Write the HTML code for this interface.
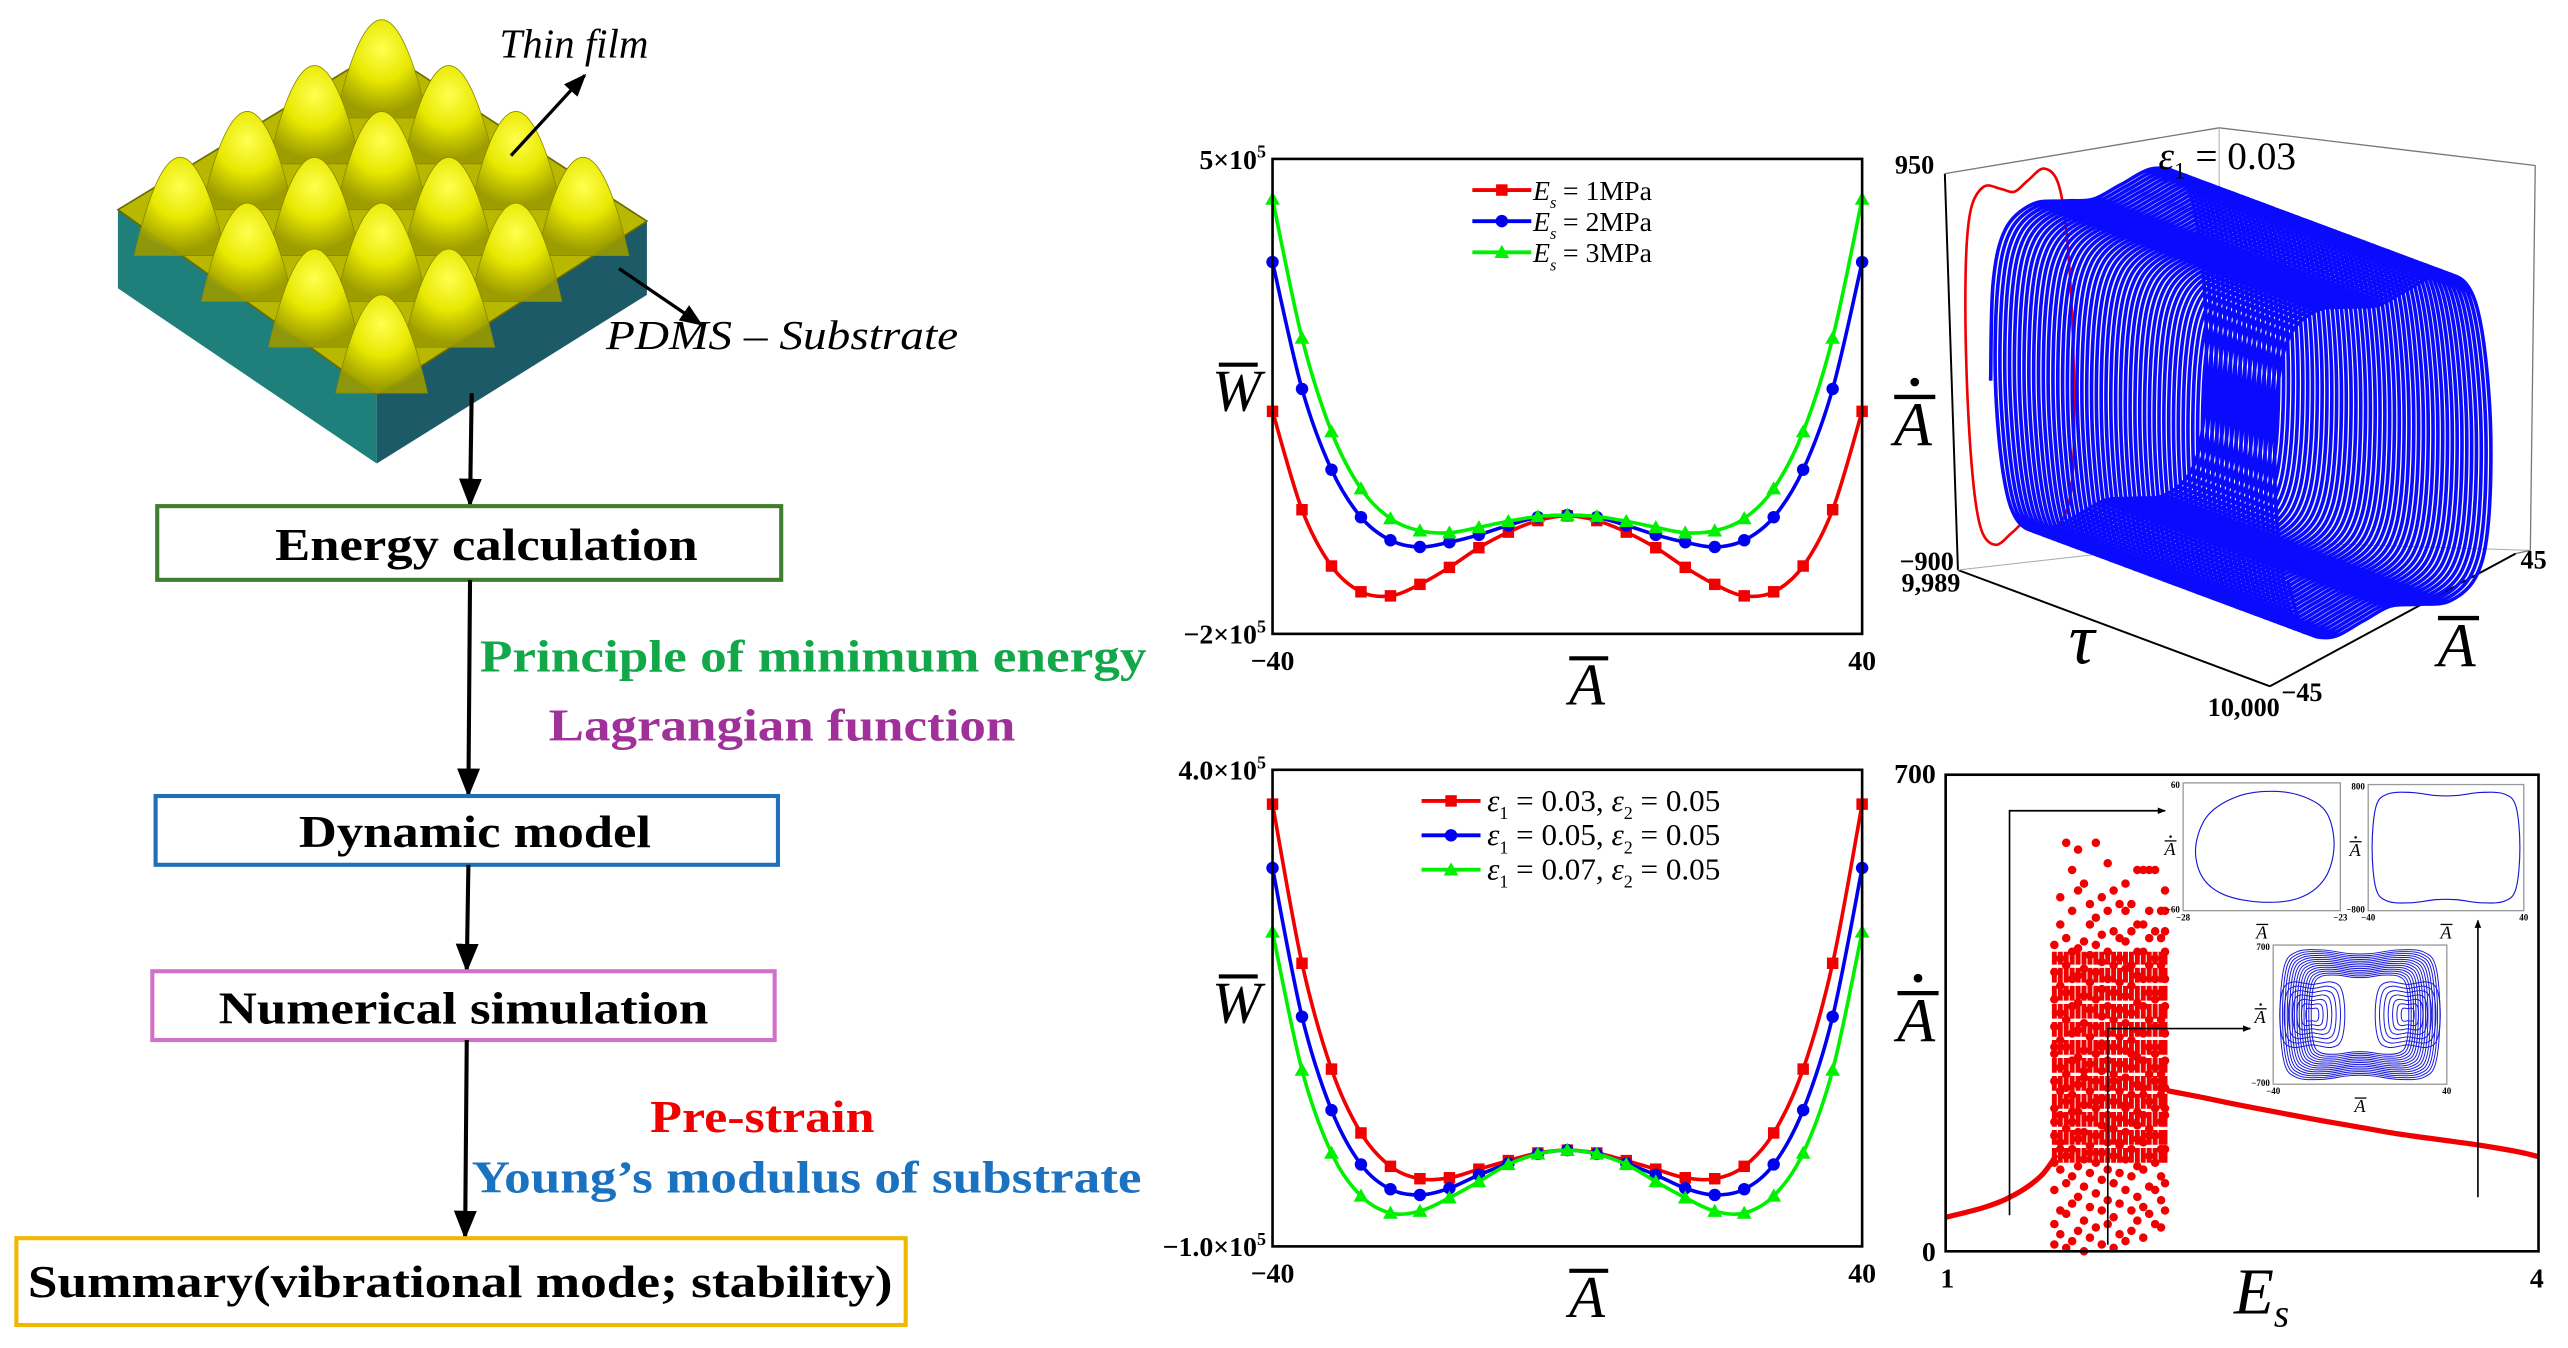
<!DOCTYPE html>
<html><head><meta charset="utf-8"><title>Thin film dynamics</title>
<style>
html,body{margin:0;padding:0;background:#fff;}
svg{display:block;}
text{font-family:"Liberation Serif",serif;}
</style></head>
<body>
<svg id="fig" width="2568" height="1348" viewBox="0 0 1568 823" xmlns="http://www.w3.org/2000/svg">
<defs>
<radialGradient id="bump" cx="50%" cy="30%" r="65%">
<stop offset="0" stop-color="#ffff50"/><stop offset="0.5" stop-color="#e8e800"/><stop offset="1" stop-color="#9a9a00" stop-opacity="0.9"/>
</radialGradient>
<marker id="ah" viewBox="0 0 10 10" refX="9" refY="5" markerWidth="7" markerHeight="7" orient="auto"><path d="M0,1 L10,5 L0,9 z" fill="#000"/></marker>
<marker id="ahs" viewBox="0 0 10 10" refX="9" refY="5" markerWidth="5" markerHeight="5" orient="auto"><path d="M0,1 L10,5 L0,9 z" fill="#000"/></marker>
</defs>

<g>
<polygon points="72,128 230,241 230,283 72,176" fill="#1f807b"/>
<polygon points="230,241 395,135 395,180 230,283" fill="#1b5a66"/>
<polygon points="72,128 233,30 395,135 230,241" fill="#b8b800" stroke="#6a6a00" stroke-width="1"/>
<g id="bumps"></g>
</g>
<text x="305" y="35" font-size="25" font-style="italic">Thin film</text>
<line x1="312" y1="95" x2="357" y2="46" stroke="#000" stroke-width="2" marker-end="url(#ah)"/>
<text x="370" y="213" font-size="25" font-style="italic" textLength="215" lengthAdjust="spacingAndGlyphs">PDMS – Substrate</text>
<line x1="378" y1="164" x2="428" y2="198" stroke="#000" stroke-width="2" marker-end="url(#ah)"/>

<g font-weight="bold">
<line x1="288" y1="240" x2="287" y2="308" stroke="#000" stroke-width="2.5" marker-end="url(#ah)"/>
<rect x="96" y="309" width="381" height="45" fill="#fff" stroke="#3e7e2e" stroke-width="2.5"/>
<text x="297" y="342" font-size="28" text-anchor="middle" textLength="258" lengthAdjust="spacingAndGlyphs">Energy calculation</text>
<line x1="287" y1="354" x2="286" y2="485" stroke="#000" stroke-width="2.5" marker-end="url(#ah)"/>
<text x="293" y="410" font-size="28" fill="#12a84a" textLength="407" lengthAdjust="spacingAndGlyphs">Principle of minimum energy</text>
<text x="335" y="452" font-size="28" fill="#a0309a" textLength="285" lengthAdjust="spacingAndGlyphs">Lagrangian function</text>
<rect x="95" y="486" width="380" height="42" fill="#fff" stroke="#1f6fba" stroke-width="2.5"/>
<text x="290" y="517" font-size="28" text-anchor="middle" textLength="215" lengthAdjust="spacingAndGlyphs">Dynamic model</text>
<line x1="286" y1="528" x2="285" y2="592" stroke="#000" stroke-width="2.5" marker-end="url(#ah)"/>
<rect x="93" y="593" width="380" height="42" fill="#fff" stroke="#d070c8" stroke-width="2.5"/>
<text x="283" y="625" font-size="28" text-anchor="middle" textLength="299" lengthAdjust="spacingAndGlyphs">Numerical simulation</text>
<line x1="285" y1="635" x2="284" y2="755" stroke="#000" stroke-width="2.5" marker-end="url(#ah)"/>
<text x="397" y="691" font-size="28" fill="#f20000" textLength="137" lengthAdjust="spacingAndGlyphs">Pre-strain</text>
<text x="288" y="728" font-size="28" fill="#1a72c0" textLength="409" lengthAdjust="spacingAndGlyphs">Young’s modulus of substrate</text>
<rect x="10" y="756" width="543" height="53" fill="#fff" stroke="#f2b800" stroke-width="2.5"/>
<text x="281" y="792" font-size="28" text-anchor="middle" textLength="528" lengthAdjust="spacingAndGlyphs">Summary(vibrational mode; stability)</text>
</g>

<g id="tl"></g>
<g id="bl"></g>
<g id="tr"></g>
<g id="br"></g>
</svg>

<script>
const xA = [-40,-36,-32,-28,-24,-20,-16,-12,-8,-4,0,4,8,12,16,20,24,28,32,36,40];
const wEs1 = [128000,-17000,-100000,-138000,-144000,-127000,-102000,-73000,-50000,-33000,-26000,-33000,-50000,-73000,-102000,-127000,-144000,-138000,-100000,-17000,128000];
const wEs2 = [348000,161000,42000,-28000,-62000,-72000,-65000,-54000,-40000,-28000,-25000,-28000,-40000,-54000,-65000,-72000,-62000,-28000,42000,161000,348000];
const wEs3 = [441000,236000,98000,14000,-30000,-48000,-51000,-43000,-34000,-27000,-25000,-27000,-34000,-43000,-51000,-48000,-30000,14000,98000,236000,441000];
const tlLegend = ["E_s = 1MPa","E_s = 2MPa","E_s = 3MPa"];
const wEp3 = [364000,197000,86000,19000,-16000,-29000,-28000,-19000,-10000,-2000,1000,-2000,-10000,-19000,-28000,-29000,-16000,19000,86000,197000,364000];
const wEp5 = [297000,141000,43000,-14000,-40000,-46000,-39000,-25000,-13000,-3000,1000,-3000,-13000,-25000,-39000,-46000,-40000,-14000,43000,141000,297000];
const wEp7 = [230000,85000,-2000,-47000,-65000,-63000,-49000,-32000,-14000,-3000,1000,-3000,-14000,-32000,-49000,-63000,-65000,-47000,-2000,85000,230000];
const blLegend = [["0.03","0.05"],["0.05","0.05"],["0.07","0.05"]];
const loopA  = [-39,-37,-32,-22,-10,0,10,22,32,37,39,37,32,22,10,0,-10,-22,-32,-37];
const loopAd = [0,450,680,760,730,700,730,760,680,450,0,-450,-680,-760,-730,-700,-730,-760,-680,-450];
const tauRange = [9989,10000];
const tauStart = 9989.8;
const nPeriods = 60;
const periodE = [1.0,1.1,1.2,1.3,1.4,1.48,1.53,1.56];
const periodV = [50,57,65,76,92,110,128,142];
const periodE2 = [2.12,2.3,2.5,2.7,2.9,3.1,3.3,3.5,3.7,3.9,4.0];
const periodV2 = [236,226,214,203,192,182,172,164,156,146,139];
const chaosE = [1.55,1.58,1.61,1.64,1.67,1.70,1.73,1.76,1.79,1.82,1.85,1.88,1.91,1.94,1.97,2.00,2.03,2.06,2.09,2.11];
const chaosV = [
 [10,40,90,130,170,210,250,290,330,370,410,450,300,190],
 [25,60,120,160,200,235,270,310,350,390,430,480,520,150],
 [5,55,100,140,180,220,260,300,340,380,420,460,600,240],
 [15,70,110,150,190,230,280,320,360,400,440,500,560,205],
 [30,80,125,165,205,245,285,325,365,405,445,530,590,175],
 [0,45,95,135,175,215,255,295,335,375,415,455,540,265],
 [20,65,115,155,195,235,275,315,355,395,435,480,510,145],
 [35,85,130,170,210,250,290,330,370,410,450,490,600,220],
 [10,60,105,145,185,225,265,305,345,385,425,465,520,300],
 [40,75,120,160,200,240,280,320,360,400,440,500,570,180],
 [5,50,100,140,180,220,260,300,340,380,420,470,530,250],
 [25,70,115,155,195,235,275,315,355,395,430,460,510,160],
 [15,90,135,175,215,255,295,335,375,415,455,500,540,210],
 [30,60,110,150,190,230,270,310,350,390,420,470,510,290],
 [45,80,125,165,205,245,285,325,365,405,440,480,560,185],
 [20,65,120,160,200,240,280,320,360,400,440,480,560,230],
 [55,95,140,180,220,260,300,340,380,420,460,500,560,170],
 [40,90,130,170,210,250,290,330,370,400,430,470,560,270],
 [35,75,110,150,190,230,260,300,340,380,420,460,500,240],
 [60,100,150,200,240,280,320,360,400,440,470,500,530,210]
];
const inset1A = [-27.6,-27.2,-26.2,-25,-24,-23.4,-23.2,-23.5,-24.3,-25.5,-26.7,-27.4];
const inset1Ad = [0,30,48,52,45,30,0,-30,-48,-52,-45,-28];
const inset2A = [-38,-36,-30,-18,-5,5,18,30,36,38,36,30,18,5,-5,-18,-30,-36];
const inset2Ad = [0,520,680,700,660,660,700,680,520,0,-520,-680,-700,-660,-660,-700,-680,-520];
const inset3Scale = [1.0,0.97,0.94,0.91,0.88,0.85,0.82,0.79,0.76,0.73,0.70,0.67,0.64,0.61];
const inset3Inner = [3,5,7,9,11,13,15];

const NS = "http://www.w3.org/2000/svg";
function mk(tag, attrs, parent){ const e=document.createElementNS(NS,tag); for(const k in attrs) e.setAttribute(k,attrs[k]); if(parent) parent.appendChild(e); return e; }
function smooth(pts, closed){
  if(pts.length<2) return "";
  const n=pts.length; let d="M"+pts[0][0].toFixed(2)+","+pts[0][1].toFixed(2);
  const g=i=> closed? pts[(i+n)%n] : pts[Math.max(0,Math.min(n-1,i))];
  const last = closed? n : n-1;
  for(let i=0;i<last;i++){
    const p0=g(i-1),p1=g(i),p2=g(i+1),p3=g(i+2);
    const c1=[p1[0]+(p2[0]-p0[0])/6,p1[1]+(p2[1]-p0[1])/6];
    const c2=[p2[0]-(p3[0]-p1[0])/6,p2[1]-(p3[1]-p1[1])/6];
    d+="C"+c1[0].toFixed(2)+","+c1[1].toFixed(2)+" "+c2[0].toFixed(2)+","+c2[1].toFixed(2)+" "+p2[0].toFixed(2)+","+p2[1].toFixed(2);
  }
  return d+(closed?"Z":"");
}

(function(){
  const g=document.getElementById('bumps');
  for(let s=0;s<=6;s++) for(let i=0;i<4;i++){ const j=s-i; if(j<0||j>3) continue;
    const cx=233+(i-j)*41, cy=50+(i+j)*28;
    const e=mk('path',{d:"M"+(cx-28)+","+(cy+22)+" C"+(cx-22)+","+(cy-5)+" "+(cx-12)+","+(cy-38)+" "+cx+","+(cy-38)+" C"+(cx+12)+","+(cy-38)+" "+(cx+22)+","+(cy-5)+" "+(cx+28)+","+(cy+22)+" Z",fill:'url(#bump)',stroke:'#8a8a00','stroke-width':0.5},g);
    
    
  }
})();

function marker(g,type,x,y,color){
  let m;
  if(type==='sq') m=mk('rect',{x:x-3.5,y:y-3.5,width:7,height:7,fill:color},g);
  else if(type==='ci') m=mk('circle',{cx:x,cy:y,r:3.8,fill:color},g);
  else m=mk('polygon',{points:(x)+","+(y-4.5)+" "+(x-4.5)+","+(y+3.5)+" "+(x+4.5)+","+(y+3.5),fill:color},g);
  
  
}
function txt(g,x,y,s,attrs,name){ const t=mk('text',Object.assign({x:x,y:y},attrs||{}),g); t.textContent=s;   return t; }
function barLabel(g,x,y,letter,size,name,dot){
  txt(g,x,y,letter,{'font-size':size,'font-style':'italic','text-anchor':'middle'},name);
  const l=mk('line',{x1:x-size*0.3,y1:y-size*0.78,x2:x+size*0.36,y2:y-size*0.78,stroke:'#000','stroke-width':size*0.07},g);
   
  if(dot){ const c=mk('circle',{cx:x+size*0.03,cy:y-size*1.02,r:size*0.07,fill:'#000'},g);   }
}
function sup(g,x,y,base,exp,size,anchorEnd,name){
  const t=txt(g,x,y,"",{'font-size':size,'font-weight':'bold','text-anchor':anchorEnd?'end':'start'},name);
  const a=mk('tspan',{},t); a.textContent=base;
  const b=mk('tspan',{dy:-size*0.4,'font-size':size*0.65},t); b.textContent=exp;
}

function energyChart(gid, box, ymin, ymax, series, colors, types, ticks, legendFn, legPos){
  const g=document.getElementById(gid);
  const [L,T,R,B]=box;
  const sx=x=>L+(x+40)/80*(R-L);
  const sy=v=>T+(ymax-v)/(ymax-ymin)*(B-T);
  series.forEach((s,k)=>{
    const pts=xA.map((x,i)=>[sx(x),sy(s[i])]);
    const p=mk('path',{d:smooth(pts,false),fill:'none',stroke:colors[k],'stroke-width':2.2},g);
    
    
    pts.forEach(q=>marker(g,types[k],q[0],q[1],colors[k]));
  });
  const fr=mk('rect',{x:L,y:T,width:R-L,height:B-T,fill:'none',stroke:'#000','stroke-width':1.6},g);
   
  sup(g,L-4,T+6,ticks[0],"5",17,true,'y-tick-max');
  sup(g,L-4,B+6,ticks[1],"5",17,true,'y-tick-min');
  txt(g,L,B+22,"−40",{'font-size':17,'font-weight':'bold','text-anchor':'middle'},'x-tick-min');
  txt(g,R,B+22,"40",{'font-size':17,'font-weight':'bold','text-anchor':'middle'},'x-tick-max');
  barLabel(g,L-22,T+(B-T)*0.53,"W",36,'y-axis-title',false);
  barLabel(g,(L+R)/2+12,B+43,"A",36,'x-axis-title',false);
  colors.forEach((c,k)=>{
    const y=legPos[2]+k*legPos[3];
    const l=mk('line',{x1:legPos[0],y1:y,x2:legPos[0]+36,y2:y,stroke:c,'stroke-width':2.4},g);
     
    marker(g,types[k],legPos[0]+18,y,c);
    legendFn(g,legPos[1],y+6,k);
  });
}
energyChart('tl',[777,97,1137,387],-2e5,5e5,[wEs1,wEs2,wEs3],['#f20000','#0000f0','#00f000'],['sq','ci','tr'],["5×10","−2×10"],
 function(g,x,y,k){
   const t=txt(g,x,y,"",{'font-size':17},'legend-entry-'+(k+1));
   const a=mk('tspan',{'font-style':'italic'},t); a.textContent="E";
   const b=mk('tspan',{'font-size':10,'font-style':'italic',dy:5},t); b.textContent="s";
   const c=mk('tspan',{dy:-5,dx:4},t); c.textContent="= "+tlLegend[k].split("= ")[1];
 },[899,936,116,19]);
energyChart('bl',[777,470,1137,761],-1e5,4e5,[wEp3,wEp5,wEp7],['#f20000','#0000f0','#00f000'],['sq','ci','tr'],["4.0×10","−1.0×10"],
 function(g,x,y,k){
   const t=txt(g,x,y,"",{'font-size':19},'legend-entry-'+(k+1));
   const a=mk('tspan',{'font-style':'italic'},t); a.textContent="ε";
   const b=mk('tspan',{'font-size':11,dy:5},t); b.textContent="1";
   const c=mk('tspan',{dy:-5},t); c.textContent=" = "+blLegend[k][0]+", ";
   const d=mk('tspan',{'font-style':'italic'},t); d.textContent="ε";
   const e=mk('tspan',{'font-size':11,dy:5},t); e.textContent="2";
   const f=mk('tspan',{dy:-5},t); f.textContent=" = "+blLegend[k][1];
 },[868,908,489,21]);

(function(){
  const g=document.getElementById('tr');
  const O=[1195.5,348], tV=[190.5/11,71/11], aV=[150/90,-81/90], aL=[150/90,-0.5], dV=[-8/1850,-242/1850];
  const P=(A,Ad,tau)=>{const t=tau-tauRange[0],a=A+45,d=Ad+900;return [O[0]+t*tV[0]+a*aV[0]+d*dV[0], O[1]+t*tV[1]+a*aV[1]+d*dV[1]];};
  const PL=(A,Ad,tau)=>{const t=tau-tauRange[0],a=A+45,d=Ad+900;return [O[0]+t*tV[0]+a*aL[0]+d*dV[0], O[1]+t*tV[1]+a*aL[1]+d*dV[1]];};
  const ln=(p,q,w,c,n)=>{const l=mk('line',{x1:p[0],y1:p[1],x2:q[0],y2:q[1],stroke:c,'stroke-width':w},g);};
  const b0=P(-45,-900,9989), b1=P(-45,950,9989), bt=P(-45,-900,10000), ba=P(45,-900,10000);
  ln(b0,b1,1.2,'#000','z-axis'); ln(b0,bt,1.2,'#000','tau-axis'); ln(bt,ba,1.2,'#000','a-axis');
  ln(b1,[1355,78],0.8,'#777','box-edge'); ln([1355,78],[1548,101],0.8,'#777','box-edge');
  ln([1355,78],[1355,330],0.6,'#aaa','box-edge'); ln([1548,101],[1545,336],0.8,'#777','box-edge');
  ln(b0,[1355,330],0.6,'#aaa','box-edge'); ln([1355,330],[1545,336],0.6,'#aaa','box-edge'); ln(ba,[1545,336],0.8,'#777','box-edge');
  const red=loopA.map((a,i)=>PL(a*0.5-20,loopAd[i]*1.1,9989));
  const rp=mk('path',{d:smooth(red,true),fill:'none',stroke:'#f00000','stroke-width':1.6},g);
   
  const pts=[]; const n=loopA.length; const dt=(tauRange[1]-tauStart)/nPeriods;
  for(let k=0;k<nPeriods;k++) for(let i=0;i<n;i++){ pts.push(PL(loopA[i],loopAd[i],tauStart+(k+i/n)*dt)); }
  const bp=mk('path',{d:smooth(pts,false),fill:'none',stroke:'#0a0aff','stroke-width':2.2},g);
   
  const B='bold';
  txt(g,1181,106,"950",{'font-size':16,'font-weight':B,'text-anchor':'end'},'z-tick-max');
  txt(g,1193,348,"−900",{'font-size':16,'font-weight':B,'text-anchor':'end'},'z-tick-min');
  txt(g,1197,361,"9,989",{'font-size':16,'font-weight':B,'text-anchor':'end'},'tau-tick-min');
  txt(g,1392,437,"10,000",{'font-size':16,'font-weight':B,'text-anchor':'end'},'tau-tick-max');
  txt(g,1393,428,"−45",{'font-size':16,'font-weight':B},'a-tick-min');
  txt(g,1539,347,"45",{'font-size':16,'font-weight':B},'a-tick-max');
  txt(g,1271,405,"τ",{'font-size':44,'font-style':'italic','text-anchor':'middle'},'tau-axis-title');
  barLabel(g,1500,407,"A",38,'a-axis-title',false);
  barLabel(g,1168,272,"A",38,'z-axis-title',true);
  const t=txt(g,1318,103,"",{'font-size':24},'strain-annotation');
  const a=mk('tspan',{'font-style':'italic'},t); a.textContent="ε";
  const s=mk('tspan',{'font-size':14,dy:6},t); s.textContent="1";
  const c=mk('tspan',{dy:-6},t); c.textContent=" = 0.03";
})();

(function(){
  const g=document.getElementById('br');
  const L=1188,T=473,R=1550,Bm=764;
  const sx=e=>L+(e-1)/3*(R-L), sy=v=>Bm-v/700*(Bm-T);
  const p1=mk('path',{d:smooth(periodE.map((e,i)=>[sx(e),sy(periodV[i])]),false),fill:'none',stroke:'#f00000','stroke-width':3.2},g);
   
  const p2=mk('path',{d:smooth(periodE2.map((e,i)=>[sx(e),sy(periodV2[i])]),false),fill:'none',stroke:'#f00000','stroke-width':3.2},g);
   
  chaosE.forEach((e,i)=>{
    const c=mk('line',{x1:sx(e),y1:sy(130),x2:sx(e),y2:sy(440),stroke:'#f00000','stroke-width':3,'stroke-dasharray':'9 2'},g);
     
  });
  chaosE.forEach((e,i)=>chaosV[i].forEach(v=>{
    const c=mk('circle',{cx:sx(e),cy:sy(v),r:2.6,fill:'#f00000'},g);
     
  }));
  const fr=mk('rect',{x:L,y:T,width:R-L,height:Bm-T,fill:'none',stroke:'#000','stroke-width':1.6},g);
   
  txt(g,1182,478,"700",{'font-size':17,'font-weight':'bold','text-anchor':'end'},'y-tick-max');
  txt(g,1182,770,"0",{'font-size':17,'font-weight':'bold','text-anchor':'end'},'y-tick-min');
  txt(g,1189,786,"1",{'font-size':17,'font-weight':'bold','text-anchor':'middle'},'x-tick-min');
  txt(g,1549,786,"4",{'font-size':17,'font-weight':'bold','text-anchor':'middle'},'x-tick-max');
  barLabel(g,1170,636,"A",38,'y-axis-title',true);
  const t=txt(g,1364,802,"",{'font-size':40,'font-style':'italic'},'x-axis-title');
  const a=mk('tspan',{},t); a.textContent="E";
  const s=mk('tspan',{'font-size':24,dy:8},t); s.textContent="s";
  const pl=(d,n,m)=>{const p=mk('path',{d:d,fill:'none',stroke:'#000','stroke-width':1,'marker-end':m?'url(#ahs)':''},g);};
  pl("M1227,742 L1227,495 L1322,495",'arrow-to-inset-1',true);
  pl("M1287,760 L1287,628 L1374,628",'arrow-to-inset-3',true);
  pl("M1513,731 L1513,562",'arrow-to-inset-2',true);
  function inset(box,xr,yr,labs,draws,name){
    const [l,t2,r,b]=box;
    const ix=a=>l+(a-xr[0])/(xr[1]-xr[0])*(r-l), iy=v=>b-(v-yr[0])/(yr[1]-yr[0])*(b-t2);
    const bg=mk('rect',{x:l,y:t2,width:r-l,height:b-t2,fill:'#fff',stroke:'#999','stroke-width':0.8},g);
     
    draws.forEach(d=>{const p=mk('path',{d:smooth(d[0].map((a,i)=>[ix(a),iy(d[1][i])]),true),fill:'none',stroke:'#1818d8','stroke-width':d[2]||0.7},g);});
    txt(g,l-2,t2+3,labs[0],{'font-size':5.5,'font-weight':'bold','text-anchor':'end'},name+'-ytick');
    txt(g,l-2,b+1,labs[1],{'font-size':5.5,'font-weight':'bold','text-anchor':'end'},name+'-ytick');
    txt(g,l,b+6,labs[2],{'font-size':5.5,'font-weight':'bold','text-anchor':'middle'},name+'-xtick');
    txt(g,r,b+6,labs[3],{'font-size':5.5,'font-weight':'bold','text-anchor':'middle'},name+'-xtick');
    barLabel(g,l-8,(t2+b)/2+5,"A",11,name+'-ylabel',true);
    barLabel(g,(l+r)/2,b+17,"A",11,name+'-xlabel',false);
  }
  inset([1333,478,1429,556],[-28,-23],[-60,60],["60","−60","−28","−23"],[[inset1A,inset1Ad]],'inset-periodic');
  inset([1446,479,1541,556],[-40,40],[-800,800],["800","−800","−40","40"],[[inset2A,inset2Ad]],'inset-large-orbit');
  const d3=[];
  inset3Scale.forEach(s=>d3.push([inset2A.map(a=>a*s*0.97),inset2Ad.map(v=>v*s*0.93),0.6]));
  inset3Inner.forEach(r=>{ [-22,22].forEach(c=>{ d3.push([loopA.map(a=>c+a*r/39),loopAd.map(v=>v*r*22/760),0.6]); }); });
  inset([1388,577,1494,662],[-40,40],[-700,700],["700","−700","−40","40"],d3,'inset-chaotic');
})();
</script>
</body></html>
